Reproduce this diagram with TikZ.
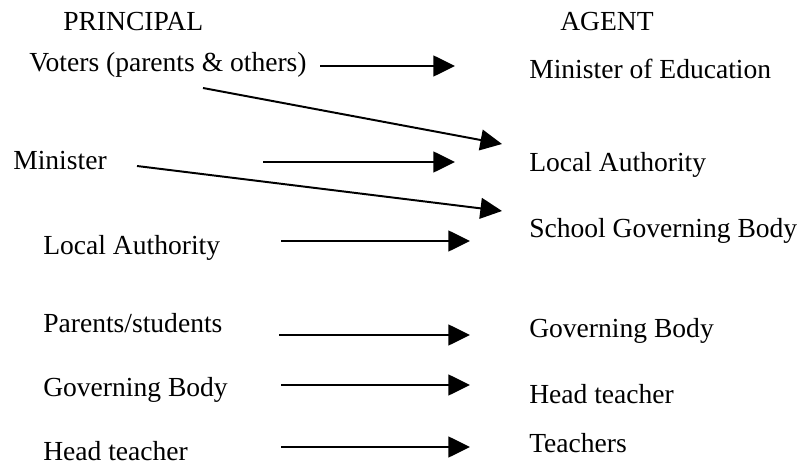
\documentclass[tikz,border=0pt]{standalone}
\usepackage{fontspec}
\setmainfont{Liberation Serif}
\usetikzlibrary{arrows.meta}

\begin{document}
\begin{tikzpicture}[x=0.025cm,y=-0.025cm,
    lbl/.style={anchor=base west,inner sep=0pt,font=\fontsize{19.6}{23}\selectfont},
    link/.style={-{Triangle[length=0.54cm,width=0.52cm]},line width=1.4pt}]
    \useasboundingbox (0,0) rectangle (798,466);
    % headings
    \node[lbl] (principal) at (63,31) {PRINCIPAL};
    \node[lbl] (agent) at (560,31) {AGENT};
    % principals
    \node[lbl] (voters) at (29,72) {Voters (parents \& others)};
    \node[lbl] (minister) at (13,170) {Minister};
    \node[lbl] (plocal) at (43,254) {Local Authority};
    \node[lbl] (parents) at (43,332) {Parents/students};
    \node[lbl] (pgov) at (43,396) {Governing Body};
    \node[lbl] (phead) at (43,460) {Head teacher};
    % agents
    \node[lbl] (medu) at (529,79) {Minister of Education};
    \node[lbl] (alocal) at (529,172) {Local Authority};
    \node[lbl] (school) at (529,238) {School Governing Body};
    \node[lbl] (agov) at (529,337) {Governing Body};
    \node[lbl] (ahead) at (529,403) {Head teacher};
    \node[lbl] (teachers) at (529,452) {Teachers};
    % arrow ends
    \coordinate (v1) at (320,66);   \coordinate (v1e) at (455,66);
    \coordinate (v2) at (203,88);   \coordinate (v2e) at (502,144);
    \coordinate (m1) at (263,162);  \coordinate (m1e) at (455,162);
    \coordinate (m2) at (137,166);  \coordinate (m2e) at (502,211);
    \coordinate (l1) at (281,241);  \coordinate (l1e) at (470,241);
    \coordinate (p1) at (279,335);  \coordinate (p1e) at (470,335);
    \coordinate (g1) at (281,385);  \coordinate (g1e) at (470,385);
    \coordinate (h1) at (281,447);  \coordinate (h1e) at (470,447);
    \draw[link] (v1) -- (v1e);
    \draw[link] (v2) -- (v2e);
    \draw[link] (m1) -- (m1e);
    \draw[link] (m2) -- (m2e);
    \draw[link] (l1) -- (l1e);
    \draw[link] (p1) -- (p1e);
    \draw[link] (g1) -- (g1e);
    \draw[link] (h1) -- (h1e);
\end{tikzpicture}
\end{document}
